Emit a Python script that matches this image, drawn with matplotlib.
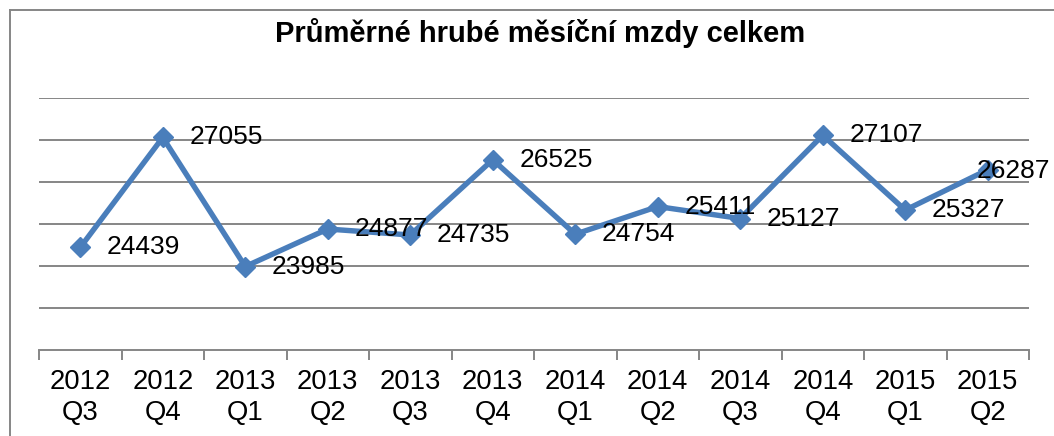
import matplotlib
matplotlib.use("Agg")
import matplotlib.pyplot as plt
from matplotlib.lines import Line2D

categories = ["2012\nQ3", "2012\nQ4", "2013\nQ1", "2013\nQ2", "2013\nQ3", "2013\nQ4",
              "2014\nQ1", "2014\nQ2", "2014\nQ3", "2014\nQ4", "2015\nQ1", "2015\nQ2"]
values = [24439, 27055, 23985, 24877, 24735, 26525, 24754, 25411, 25127, 27107, 25327, 26287]
title = "Průměrné hrubé měsíční mzdy celkem"

plt.rcParams['font.family'] = ['Liberation Sans', 'DejaVu Sans']

W, H = 1054, 436
fig = plt.figure(figsize=(W / 100, H / 100), dpi=100)
ax = fig.add_axes([39 / W, 1 - 350 / H, (1029 - 39) / W, (350 - 97.7) / H])

grey = "#868686"
blue = "#4A7EBB"
x = list(range(len(values)))

ax.plot(x, values, color=blue, lw=3.9, marker="D", ms=10, mfc=blue, mec=blue,
        solid_joinstyle="round", zorder=3, clip_on=False)
for xi, v in zip(x, values):
    if xi == len(values) - 1:
        off = (-8, -1)
    else:
        off = (19, 0)
    ax.annotate(str(v), (xi, v), xytext=off, textcoords="offset points",
                ha="left", va="center", fontsize=19, color="black", zorder=4)

ax.set_xlim(-0.5, len(values) - 0.5)
ax.set_ylim(22000, 28000)
ax.set_yticks([23000, 24000, 25000, 26000, 27000, 28000])
ax.yaxis.grid(True, color=grey, lw=1.4)
ax.set_axisbelow(True)
ax.tick_params(axis="y", left=False, labelleft=False)

ax.set_xticks(x)
ax.set_xticklabels(categories, fontsize=19.8, linespacing=1.25)
ax.tick_params(axis="x", length=0, pad=14)
ax.set_xticks([i - 0.5 for i in range(len(values) + 1)], minor=True)
ax.tick_params(axis="x", which="minor", length=7, width=1.4, color=grey, direction="out")

for s in ["top", "right", "left"]:
    ax.spines[s].set_visible(False)
ax.spines["bottom"].set_color(grey)
ax.spines["bottom"].set_linewidth(1.4)

# outer chart border
fig.add_artist(Line2D([9.5 / W, 9.5 / W], [0, 1 - 10.5 / H], transform=fig.transFigure,
                      color=grey, lw=1.4))
fig.add_artist(Line2D([9.5 / W, 1], [1 - 10.5 / H, 1 - 10.5 / H], transform=fig.transFigure,
                      color=grey, lw=1.4))

fig.text(540 / W, 1 - 33 / H, title, ha="center", va="center", fontsize=21,
         fontweight="bold")

fig.savefig("out.png", dpi=100)
